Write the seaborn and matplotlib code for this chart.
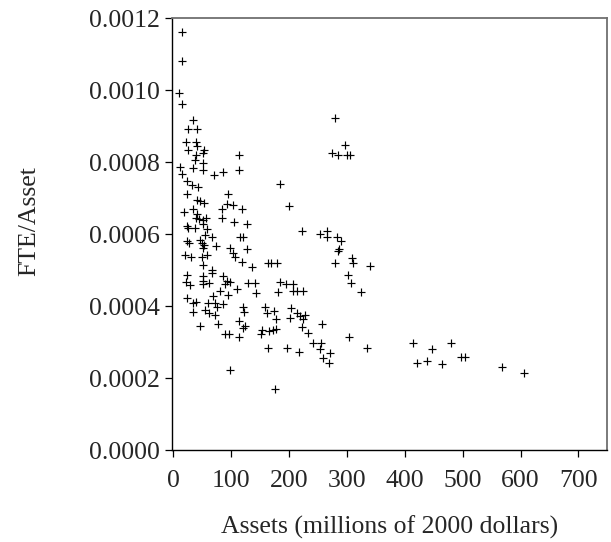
import matplotlib
matplotlib.use('Agg')
import matplotlib.pyplot as plt
import seaborn as sns
import pandas
from matplotlib.ticker import FormatStrFormatter

# assets in millions of 2000 dollars, FTE per asset
assets = [
    14.5, 15.6, 9.8, 15.6, 33.4, 25.9, 41.4,
    21.9, 38.6, 40.4, 25.9, 53.5, 38.6, 51.8, 113.4, 37.4, 50.7, 11.6, 33.4, 51.8,
    113.4, 14.5, 70.2, 86.3, 184.1, 24.2, 31.7, 43.1, 23.1, 93.8, 41.4, 46.1, 53.0,
    92.1, 103.5, 83.5, 118.0, 200.1, 18.5, 34.5, 40.4, 38.6, 44.9, 50.7, 55.9, 83.5,
    104.7, 126.6, 23.1, 25.9, 37.4, 58.7, 51.8, 222.6, 66.3, 54.7, 115.1, 120.8, 24.2,
    27.6, 46.1, 49.0, 53.0, 73.7, 51.8, 97.8, 126.6, 102.5, 20.2, 30.0, 49.0, 57.6,
    106.5, 118.0, 135.3, 51.8, 66.3, 163.9, 168.0, 179.4,
    24.2, 21.9, 28.8, 51.8, 66.3, 50.7, 62.1, 51.8, 86.3, 92.1, 97.8, 89.2, 80.6,
    109.4, 94.9, 68.0, 129.4, 141.0, 142.2, 184.1, 194.4, 207.0, 181.2, 206.0, 213.9,
    223.3, 23.1, 33.4, 39.2, 60.4, 71.9, 85.2, 75.9, 54.7, 34.5, 62.1, 71.9, 119.7,
    122.0, 158.2, 162.2, 174.3, 177.2, 202.6, 212.9, 201.3, 218.6, 227.2, 223.3, 46.1,
    77.6, 113.4, 123.7, 119.7, 89.2, 96.1, 113.4, 152.5, 151.3, 165.6, 172.5, 176.7,
    221.5, 232.9, 163.9, 195.6, 217.4, 97.8, 175.5,
    253.1, 265.7, 264.7, 281.9, 288.8, 286.4, 284.7, 279.0, 256.0, 241.5, 254.3,
    253.1, 270.4, 257.8, 269.2,
    279.0, 296.2, 274.3, 284.7, 299.2, 304.9,
    307.8, 310.6, 340.6, 301.9, 306.6, 323.9, 303.1, 334.7, 414.1, 446.9, 480.3,
    421.0, 438.9, 464.8, 497.6, 503.3, 567.6, 605.1,
]
fte_per_asset = [
    0.001163, 0.001083, 0.000992, 0.000961, 0.000919, 0.000892, 0.000892,
    0.000857, 0.000857, 0.000845, 0.000834, 0.000834, 0.000820, 0.000825, 0.000820,
    0.000808, 0.000799, 0.000788, 0.000785, 0.000779, 0.000779, 0.000767, 0.000765,
    0.000772, 0.000739, 0.000749, 0.000737, 0.000731, 0.000711, 0.000712, 0.000695,
    0.000693, 0.000686, 0.000684, 0.000682, 0.000670, 0.000670, 0.000679, 0.000663,
    0.000670, 0.000658, 0.000646, 0.000642, 0.000640, 0.000645, 0.000645, 0.000635,
    0.000629, 0.000623, 0.000617, 0.000617, 0.000614, 0.000628, 0.000609, 0.000594,
    0.000598, 0.000592, 0.000592, 0.000583, 0.000577, 0.000584, 0.000577, 0.000571,
    0.000568, 0.000561, 0.000561, 0.000559, 0.000547, 0.000543, 0.000536, 0.000538,
    0.000543, 0.000538, 0.000522, 0.000510, 0.000515, 0.000501, 0.000521, 0.000520,
    0.000520,
    0.000487, 0.000469, 0.000459, 0.000484, 0.000492, 0.000471, 0.000466, 0.000462,
    0.000484, 0.000471, 0.000469, 0.000462, 0.000443, 0.000448, 0.000432, 0.000429,
    0.000464, 0.000464, 0.000436, 0.000469, 0.000462, 0.000462, 0.000439, 0.000443,
    0.000444, 0.000443, 0.000423, 0.000410, 0.000413, 0.000409, 0.000410, 0.000406,
    0.000399, 0.000390, 0.000384, 0.000383, 0.000376, 0.000397, 0.000384, 0.000398,
    0.000383, 0.000388, 0.000364, 0.000395, 0.000383, 0.000367, 0.000373, 0.000376,
    0.000364, 0.000346, 0.000350, 0.000360, 0.000346, 0.000341, 0.000323, 0.000323,
    0.000316, 0.000335, 0.000323, 0.000332, 0.000335, 0.000336, 0.000344, 0.000327,
    0.000284, 0.000284, 0.000272, 0.000222, 0.000170,
    0.000601, 0.000610, 0.000592, 0.000594, 0.000582, 0.000559, 0.000555, 0.000520,
    0.000351, 0.000299, 0.000299, 0.000281, 0.000270, 0.000256, 0.000244,
    0.000924, 0.000848, 0.000827, 0.000820, 0.000820, 0.000820,
    0.000534, 0.000521, 0.000512, 0.000487, 0.000466, 0.000441, 0.000314, 0.000284,
    0.000299, 0.000281, 0.000298, 0.000242, 0.000249, 0.000240, 0.000259, 0.000259,
    0.000231, 0.000216,
]

df = pandas.DataFrame({'assets': assets, 'fte': fte_per_asset})

sns.set_theme(style='ticks')
plt.rcParams['font.family'] = ['Liberation Serif', 'DejaVu Serif']

fig = plt.figure(figsize=(6.11, 5.42), dpi=100)
ax = fig.add_axes([0.282, 0.169, 0.712, 0.797])

sns.scatterplot(data=df, x='assets', y='fte', marker='+', color='black',
                s=40, linewidth=0.85, ax=ax)

ax.set_xlim(-2, 750)
ax.set_ylim(0, 0.0012)
ax.set_xticks([0, 100, 200, 300, 400, 500, 600, 700])
ax.set_yticks([0, 0.0002, 0.0004, 0.0006, 0.0008, 0.0010, 0.0012])
ax.yaxis.set_major_formatter(FormatStrFormatter('%.4f'))
ax.tick_params(labelsize=18.5, length=5, width=0.9, color='black')
ax.tick_params(axis='y', pad=4)
ax.tick_params(axis='x', pad=9)

for side in ['left', 'bottom']:
    ax.spines[side].set_color('black')
    ax.spines[side].set_linewidth(1.0)
for side in ['top', 'right']:
    ax.spines[side].set_visible(True)
    ax.spines[side].set_color('#707070')
    ax.spines[side].set_linewidth(1.3)

ax.set_xlabel('Assets (millions of 2000 dollars)', fontsize=18.5, labelpad=17)
ax.set_ylabel('FTE/Asset', fontsize=18.5)
ax.yaxis.set_label_coords(-0.304, 0.531)

fig.savefig('out.png', dpi=100)
